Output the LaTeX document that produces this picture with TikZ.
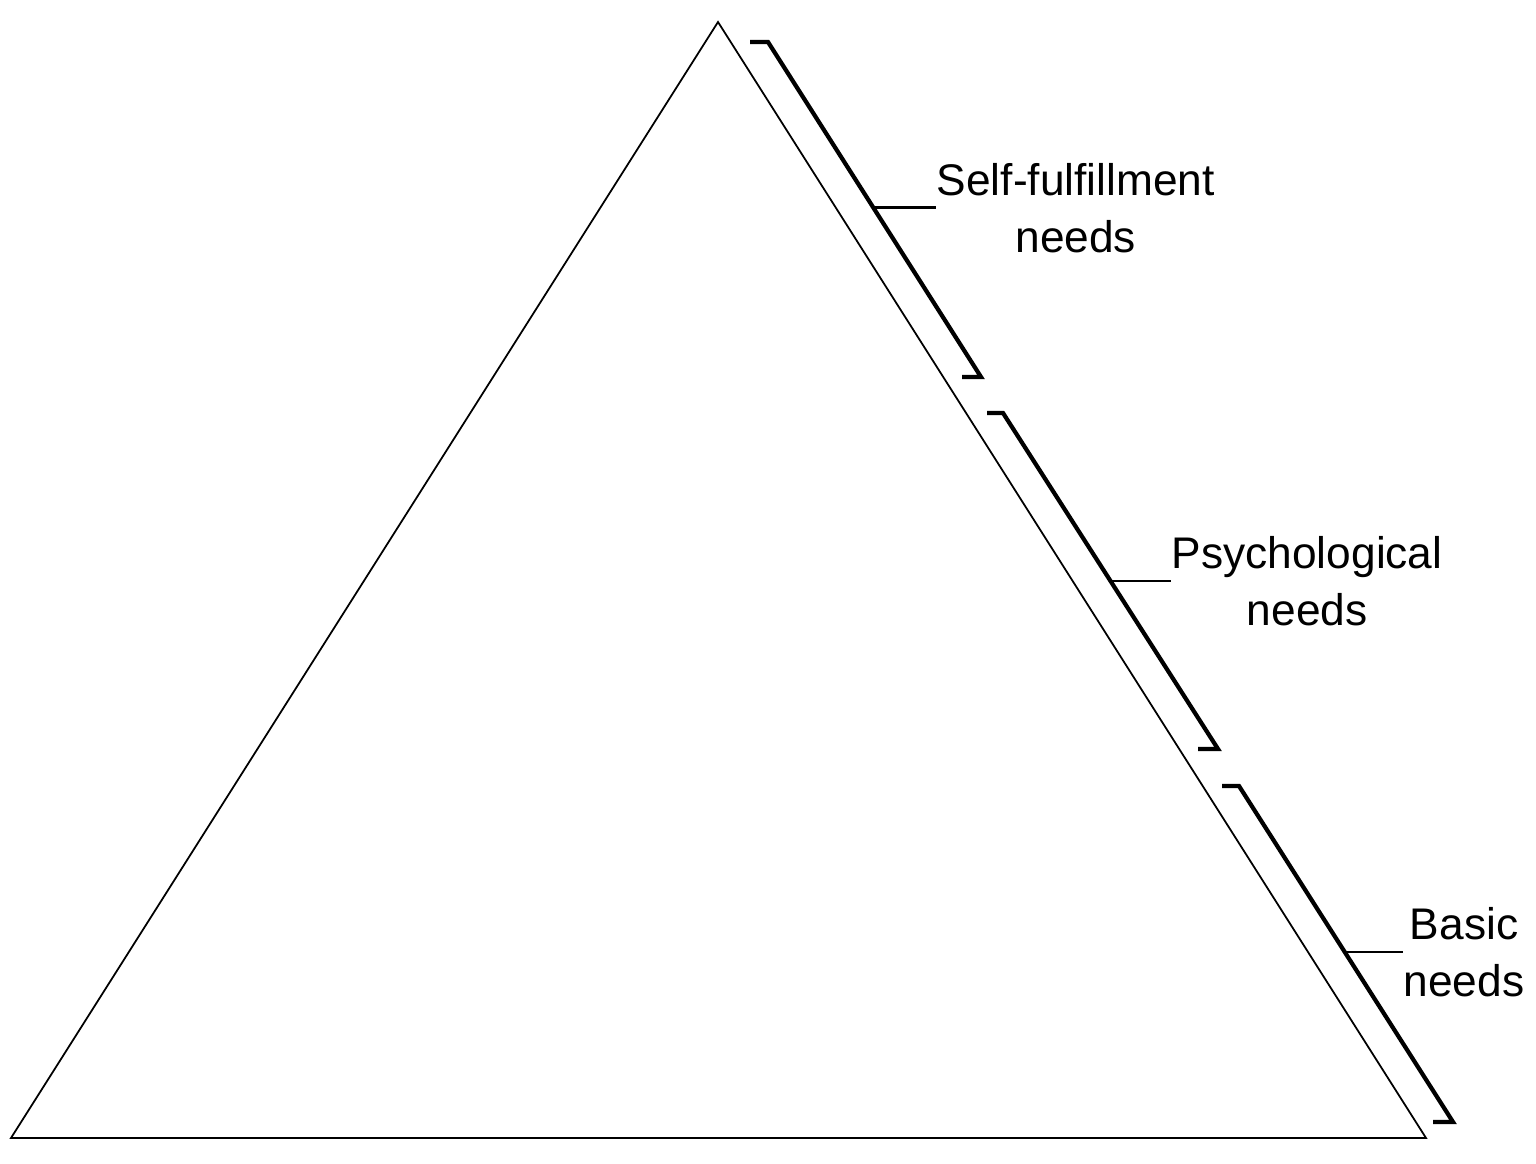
\documentclass[tikz,border=0pt]{standalone}
\usepackage{fontspec}
\setmainfont{Liberation Sans}
\usetikzlibrary{positioning}
\tikzset{
  needtext/.style={inner sep=0pt, align=center, font={\fontsize{12.6}{16.2}\selectfont}},
  bracketline/.style={line width=1.2pt, line join=miter},
  leader/.style={line width=0.85pt}
}
\begin{document}
\begin{tikzpicture}
  \useasboundingbox (0,0) rectangle (15.36,11.63);

  \draw[line width=0.5pt, line join=miter] (7.18,11.41) -- (0.11,0.25) -- (14.26,0.25) -- cycle; % pyramid

  % brackets along the right side
  \draw[bracketline] (7.50,11.21) -- (7.68,11.21) -- (9.81,7.86) -- (9.62,7.86);
  \draw[bracketline] (9.87,7.50) -- (10.03,7.50) -- (12.18,4.14) -- (11.98,4.14);
  \draw[bracketline] (12.22,3.77) -- (12.39,3.77) -- (14.53,0.41) -- (14.33,0.41);

  \coordinate (m1) at (8.74,9.55);
  \coordinate (m2) at (11.10,5.82);
  \coordinate (m3) at (13.45,2.11);

  \node[needtext, right=0.62cm of m1] (self) {Self-fulfillment\\needs};
  \node[needtext, right=0.61cm of m2] (psych) {Psychological\\needs};
  \node[needtext, right=0.58cm of m3] (basic) {Basic\\needs};

  \draw[leader] (m1) -- (self.west);
  \draw[leader] (m2) -- (psych.west);
  \draw[leader] (m3) -- (basic.west);
\end{tikzpicture}
\end{document}
